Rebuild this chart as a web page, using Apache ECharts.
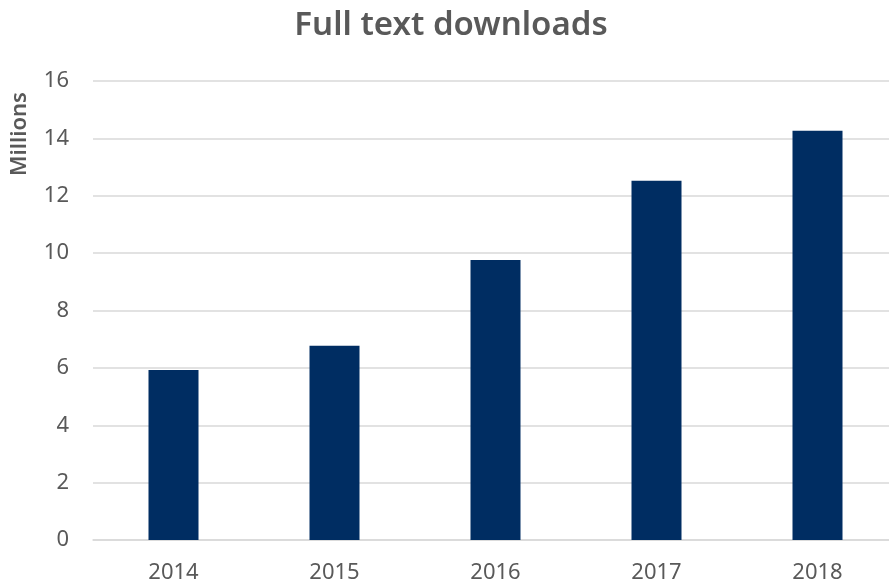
<!DOCTYPE html>
<html>
<head>
<meta charset="utf-8">
<title>Full text downloads</title>
<script src="https://cdn.jsdelivr.net/npm/echarts@6/dist/echarts.min.js"></script>
<style>
  html, body { margin: 0; padding: 0; background: #fff; }
  #chart { width: 889px; height: 582px; }
</style>
</head>
<body>
<div id="chart"></div>
<script>
// data
const years = ["2014", "2015", "2016", "2017", "2018"];
const downloads = [5.93, 6.77, 9.76, 12.52, 14.27];
const yTicks = [0, 2, 4, 6, 8, 10, 12, 14, 16];

const textColor = "#595959";
const font = "Noto Sans";

const chart = echarts.init(document.getElementById("chart"));
chart.setOption({
  animation: false,
  title: {
    text: "Full text downloads",
    left: 446,
    textAlign: "center",
    top: 4,
    textStyle: { fontFamily: font, fontSize: 33, fontWeight: 600, color: textColor }
  },
  graphic: [
    {
      type: "text",
      x: 9,
      y: 134,
      rotation: Math.PI / 2,
      style: {
        text: "Millions",
        fontFamily: font,
        fontSize: 22,
        fontWeight: 600,
        fill: textColor,
        align: "center",
        verticalAlign: "top"
      }
    }
  ],
  grid: { left: 93, right: -9, top: 81, bottom: 42, outerBoundsMode: "none" },
  xAxis: {
    type: "category",
    data: years,
    axisTick: { show: false },
    axisLine: { lineStyle: { color: "#d9d9d9", width: 1.5 } },
    axisLabel: { color: textColor, fontFamily: font, fontSize: 22, margin: 22 }
  },
  yAxis: {
    type: "value",
    min: yTicks[0],
    max: yTicks[yTicks.length - 1],
    interval: yTicks[1] - yTicks[0],
    axisLine: { show: false },
    axisTick: { show: false },
    splitLine: { lineStyle: { color: "#d9d9d9", width: 1.5 } },
    axisLabel: { color: textColor, fontFamily: font, fontSize: 22, margin: 24 }
  },
  series: [
    {
      type: "bar",
      data: downloads,
      barWidth: 50,
      itemStyle: { color: "#002d62" }
    }
  ]
});
</script>
</body>
</html>
